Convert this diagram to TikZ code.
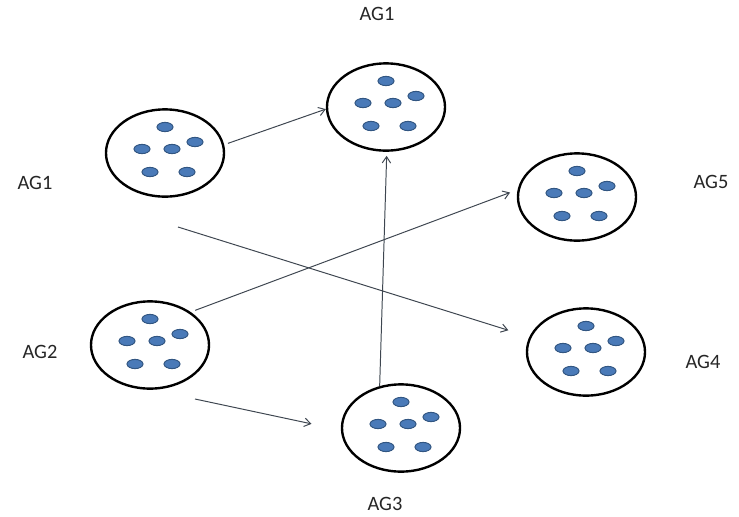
\documentclass[tikz,border=0pt]{standalone}
\usepackage{fontspec}
\setmainfont{Carlito}
\usetikzlibrary{arrows.meta}
\usetikzlibrary{calc}
\usetikzlibrary{shapes.geometric}

\definecolor{linkgray}{RGB}{62,70,80}
\definecolor{dotfill}{RGB}{74,122,184}
\definecolor{dotline}{RGB}{50,86,130}

\tikzset{
    grp/.style={ellipse, draw=black, line width=1.7pt, minimum width=2.95cm, minimum height=2.18cm, inner sep=0pt},
    dot/.style={ellipse, fill=dotfill, draw=dotline, line width=0.7pt, minimum width=0.4cm, minimum height=0.23cm, inner sep=0pt},
    link/.style={draw=linkgray, line width=0.7pt, -{Straight Barb[length=4.5pt,width=6pt]}},
    lbl/.style={font=\fontsize{14.5}{16}\selectfont, text=black!85}
}

\begin{document}
\begin{tikzpicture}[x=0.025cm, y=-0.025cm]
            \useasboundingbox (0,0) rectangle (739,516);
            \node[grp] (g1) at (165,153) {};
            \node[grp] (t) at (386,107) {};
            \node[grp] (g2) at (150,345) {};
            \node[grp] (g3) at (401,428) {};
            \node[grp] (g5) at (577,197) {};
            \node[grp] (g4) at (586,352) {};
            \foreach \g in {g1,t,g2,g3,g4,g5}
                \foreach \dx/\dy in {0/-26, 30/-11, -23/-4, 7/-4, -15/19, 22/19}
                    \node[dot] at ($(\g)+(\dx,\dy)$) {};
            \node[lbl] (lt) at (377,14) {AG1};
            \node[lbl] (l1) at (35,183) {AG1};
            \node[lbl] (l5) at (711,182) {AG5};
            \node[lbl] (l4) at (703,362) {AG4};
            \node[lbl] (l2) at (40,352) {AG2};
            \node[lbl] (l3) at (385,504) {AG3};
            \coordinate (s2) at (178,227);
            \coordinate (s4) at (195,399);
            \draw[link, shorten <=0.1cm] (g1.8) to (t.182);
            \draw[link, shorten >=0.55cm] (s2) to (g4.165);
            \draw[link, shorten <=0.12cm, shorten >=0.2cm] (g2.39) to (g5.173);
            \draw[link, shorten >=0.75cm] (s4) to (g3.182);
            \draw[link, shorten >=0.1cm] (g3.117) to (t.-89);
\end{tikzpicture}
\end{document}
